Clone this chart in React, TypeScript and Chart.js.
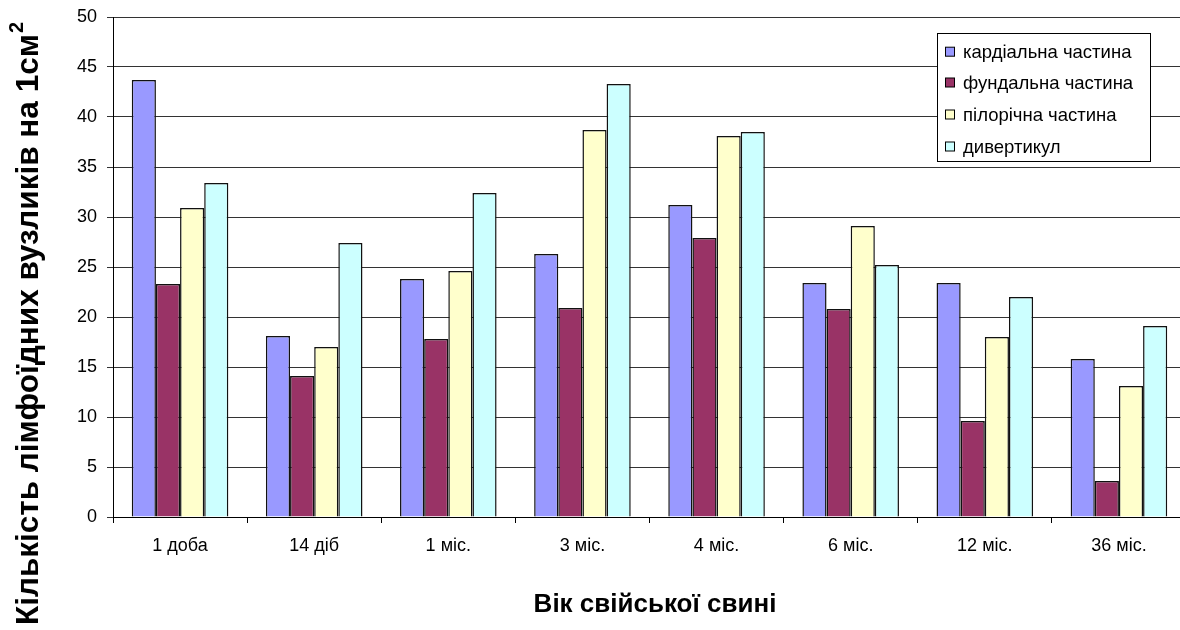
import React, { useEffect, useRef } from "react";
import { Chart, registerables } from "chart.js";

Chart.register(...registerables);

const categories = ["1 доба", "14 діб", "1 міс.", "3 міс.", "4 міс.", "6 міс.", "12 міс.", "36 міс."];
const seriesNames = ["кардіальна частина", "фундальна частина", "пілорічна частина", "дивертикул"];
const cardial = [43.7, 18.1, 23.8, 26.3, 31.2, 23.4, 23.4, 15.8];
const fundal = [23.3, 14.1, 17.8, 20.9, 27.9, 20.8, 9.6, 3.6];
const pyloric = [30.9, 17.0, 24.6, 38.7, 38.1, 29.1, 18.0, 13.1];
const diverticul = [33.4, 27.4, 32.4, 43.3, 38.5, 25.2, 22.0, 19.1];
const seriesColors = ["#9999FF", "#993366", "#FFFFCC", "#CCFFFF"];
const yTitle = "Кількість лімфоїдних вузликів на 1см";
const yTitleSup = "2";
const xTitle = "Вік свійської свині";

const FONT = "'Liberation Sans', Arial, sans-serif";

const overlayPlugin = {
  id: "overlay",
  afterDraw(chart: any) {
    const ctx = chart.ctx;
    ctx.save();
    // legend box
    const lx = 937.5, ly = 33.5, lw = 213, lh = 128;
    ctx.fillStyle = "#fff";
    ctx.fillRect(lx, ly, lw, lh);
    ctx.strokeStyle = "#000";
    ctx.lineWidth = 1;
    ctx.strokeRect(lx, ly, lw, lh);
    const rows = [51.7, 82.5, 114.5, 146.5];
    ctx.font = `18.5px ${FONT}`;
    ctx.textBaseline = "middle";
    ctx.textAlign = "left";
    seriesNames.forEach((name, i) => {
      const cy = rows[i];
      ctx.fillStyle = seriesColors[i];
      ctx.fillRect(945.5, cy - 4.5, 9, 9);
      ctx.strokeStyle = "#000";
      ctx.strokeRect(945.5, cy - 4.5, 9, 9);
      ctx.fillStyle = "#000";
      ctx.fillText(name, 963, cy + 1);
    });
    // x title
    ctx.font = `bold 26px ${FONT}`;
    ctx.textAlign = "center";
    ctx.textBaseline = "middle";
    ctx.fillText(xTitle, 655, 605);
    // y title rotated
    ctx.translate(29, 324);
    ctx.rotate(-Math.PI / 2);
    ctx.font = `bold 31.5px ${FONT}`;
    const w1 = ctx.measureText(yTitle).width;
    ctx.font = `bold 20px ${FONT}`;
    const w2 = ctx.measureText(yTitleSup).width;
    const total = w1 + w2;
    ctx.textAlign = "left";
    ctx.textBaseline = "middle";
    ctx.font = `bold 31.5px ${FONT}`;
    ctx.fillText(yTitle, -total / 2, 0);
    ctx.font = `bold 20px ${FONT}`;
    ctx.fillText(yTitleSup, -total / 2 + w1 + 1, -12);
    ctx.restore();
  },
};

export default function App() {
  const ref = useRef<HTMLCanvasElement>(null);
  useEffect(() => {
    if (!ref.current) return;
    const data = [cardial, fundal, pyloric, diverticul];
    const chart = new Chart(ref.current, {
      type: "bar",
      data: {
        labels: categories,
        datasets: seriesNames.map((name, i) => ({
          label: name,
          data: data[i],
          backgroundColor: seriesColors[i],
          borderColor: "#111",
          borderWidth: 1.5,
          categoryPercentage: 0.72,
          barPercentage: 1,
        })),
      },
      options: {
        animation: false,
        responsive: false,
        maintainAspectRatio: false,
        devicePixelRatio: 1,
        layout: { padding: { left: 0, top: 17, right: 14, bottom: 0 } },
        plugins: {
          legend: { display: false },
          tooltip: { enabled: false },
          title: { display: false },
        },
        scales: {
          x: {
            grid: {
              display: true,
              drawOnChartArea: false,
              drawTicks: true,
              tickLength: 6,
              offset: true,
              color: "#000",
            },
            border: { display: true, color: "#000", width: 1 },
            ticks: {
              color: "#000",
              font: { family: FONT, size: 18 },
              padding: 12,
              maxRotation: 0,
              autoSkip: false,
            },
            afterFit(scale: any) {
              scale.height = 113;
              scale.paddingLeft = 0;
              scale.paddingRight = 0;
            },
          },
          y: {
            min: 0,
            max: 50,
            ticks: {
              stepSize: 5,
              color: "#000",
              font: { family: FONT, size: 18 },
              padding: 10,
            },
            grid: {
              display: true,
              drawOnChartArea: true,
              drawTicks: true,
              tickLength: 6,
              color: "#333",
            },
            border: { display: true, color: "#000", width: 1 },
            afterFit(scale: any) {
              scale.width = 113;
              scale.paddingTop = 10;
              scale.paddingBottom = 10;
            },
          },
        },
      },
      plugins: [overlayPlugin],
    });
    return () => chart.destroy();
  }, []);
  return (
    <div
      style={{
        position: "fixed",
        left: 0,
        top: 0,
        width: 1180,
        height: 630,
        overflow: "hidden",
        background: "#fff",
      }}
    >
      <canvas ref={ref} width={1200} height={630} style={{ display: "block", width: 1200, height: 630 }} />
    </div>
  );
}
